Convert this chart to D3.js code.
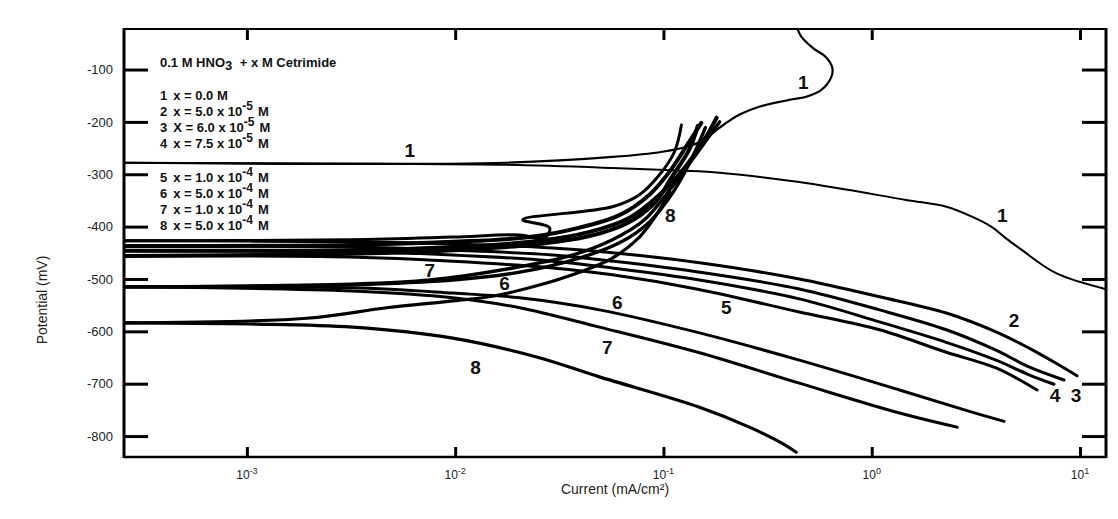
<!DOCTYPE html>
<html>
<head>
<meta charset="utf-8">
<script src="https://cdn.jsdelivr.net/npm/d3@7"></script>
<style>
  body { margin: 0; background: #fff; }
  svg { display: block; }
  .axis-text { font-family: "Liberation Sans", Arial, sans-serif; fill: #222; }
  .legend { font-family: "Liberation Sans Narrow", "Liberation Sans", Arial, sans-serif; font-weight: bold; font-size: 13px; fill: #111; }
  .curve-label { font-family: "Liberation Sans Narrow", "Liberation Sans", Arial, sans-serif; font-weight: bold; font-size: 19px; fill: #111; }
</style>
</head>
<body>
<div id="chart"></div>
<script>
// [current mA/cm2, potential mV]
const curve1Cathodic = [[2.57e-4,-278],[4.35e-3,-280],[0.0177,-282],[0.0569,-288],[0.119,-293],[0.186,-297],[0.449,-315],[1.46,-349],[2.28,-362],[3.03,-381],[3.78,-401],[4.4,-422],[5.27,-445],[7.68,-489],[13.2,-519]]
const curve1Anodic = [[2.57e-4,-278],[0.0177,-278],[0.0569,-267],[0.0989,-257],[0.133,-246],[0.157,-234],[0.186,-211],[0.232,-186],[0.288,-171],[0.402,-158],[0.485,-152],[0.573,-139],[0.640,-114],[0.647,-97],[0.605,-77],[0.519,-58],[0.459,-37],[0.439,-22]]

const curve2Cathodic = [[2.57e-4,-427],[3.12e-3,-429],[9.73e-3,-433],[0.0294,-441],[0.0569,-450],[0.149,-469],[0.449,-500],[1.09,-534],[2.28,-565],[3.95,-601],[5.69,-632],[7.68,-661],[9.68,-685]]
const curve2Anodic = [[2.57e-4,-427],[3.12e-3,-425],[9.73e-3,-420],[0.0204,-416],[0.0269,-422],[0.0284,-402],[0.0211,-387],[0.0569,-362],[0.0767,-339],[0.0957,-301],[0.113,-257],[0.122,-206]]

const curve3Cathodic = [[2.57e-4,-437],[3.12e-3,-439],[9.73e-3,-445],[0.0294,-454],[0.0569,-466],[0.149,-487],[0.449,-519],[1.09,-559],[2.28,-597],[3.95,-636],[5.69,-668],[8.38,-693]]
const curve3Anodic = [[2.57e-4,-437],[3.12e-3,-435],[9.73e-3,-429],[0.0228,-420],[0.0395,-402],[0.0615,-378],[0.0857,-339],[0.107,-295],[0.130,-244],[0.152,-202]]

const curve4Cathodic = [[2.57e-4,-446],[3.12e-3,-448],[9.73e-3,-454],[0.0294,-466],[0.0569,-479],[0.149,-502],[0.449,-538],[1.09,-582],[2.28,-621],[3.95,-655],[5.69,-683],[7.5,-701]]
const curve4Anodic = [[2.57e-4,-446],[3.12e-3,-445],[9.73e-3,-439],[0.0228,-429],[0.0442,-410],[0.0687,-383],[0.0957,-339],[0.126,-288],[0.157,-234],[0.180,-192]]

const curve5Cathodic = [[2.57e-4,-456],[3.12e-3,-458],[9.73e-3,-466],[0.0294,-479],[0.0569,-492],[0.144,-519],[0.449,-563],[1.09,-597],[2.28,-640],[3.95,-670],[6.22,-712]]
const curve5Anodic = [[2.57e-4,-456],[3.12e-3,-452],[9.73e-3,-445],[0.0228,-435],[0.0442,-418],[0.0687,-391],[0.0906,-355],[0.109,-307],[0.133,-253],[0.146,-208]]

const curve6Cathodic = [[2.57e-4,-515],[3.22e-3,-517],[9.73e-3,-527],[0.0204,-536],[0.0493,-559],[0.149,-603],[0.449,-655],[1.36,-712],[2.84,-751],[4.32,-772]]
const curve6Anodic = [[2.57e-4,-515],[3.12e-3,-511],[9.73e-3,-502],[0.0204,-487],[0.0395,-460],[0.0615,-431],[0.0857,-391],[0.113,-330],[0.136,-272],[0.159,-211]]

const curve7Cathodic = [[2.57e-4,-515],[3.22e-3,-523],[9.73e-3,-536],[0.0204,-555],[0.0493,-592],[0.149,-641],[0.449,-699],[1.36,-756],[2.57,-783]]
const curve7Anodic = [[2.57e-4,-515],[3.12e-3,-510],[7.55e-3,-502],[0.0189,-479],[0.0354,-456],[0.0569,-425],[0.0811,-387],[0.107,-330],[0.149,-253],[0.186,-200]]

const curve8Cathodic = [[2.57e-4,-584],[1.03e-3,-586],[3.22e-3,-592],[9.73e-3,-613],[0.0246,-649],[0.0493,-687],[0.149,-745],[0.2585,-783],[0.372,-814],[0.434,-831]]
const curve8Anodic = [[2.57e-4,-584],[1.94e-3,-575],[4.69e-3,-555],[9.73e-3,-542],[0.0151,-533],[0.0246,-513],[0.0395,-487],[0.0569,-460],[0.0767,-420],[0.0906,-383],[0.107,-334]]

const yTicks = [-100, -200, -300, -400, -500, -600, -700, -800]
const xTickExponents = [-3, -2, -1, 0, 1]

const legendTitle = ['0.1 M HNO', '3', ' + x M Cetrimide']
const legendRows = [
    ['1', 'x = 0.0 M', null],
    ['2', 'x = 5.0 x 10', '-5'],
    ['3', 'X = 6.0 x 10', '-5'],
    ['4', 'x = 7.5 x 10', '-5'],
    ['5', 'x = 1.0 x 10', '-4'],
    ['6', 'x = 5.0 x 10', '-4'],
    ['7', 'x = 1.0 x 10', '-4'],
    ['8', 'x = 5.0 x 10', '-4']
]

// curve number labels: [text, current, potential]
const curveLabels = [
    ['1', 6.05e-3, -253], ['1', 0.469, -123], ['1', 4.23, -378],
    ['2', 4.82, -579], ['3', 9.57, -722], ['4', 7.59, -722],
    ['5', 0.2005, -554], ['6', 0.0601, -544], ['6', 0.01727, -508],
    ['7', 0.0538, -630], ['7', 7.55e-3, -483],
    ['8', 0.01253, -668], ['8', 0.108, -378]
]

const width = 1118
const height = 519
const margin = { top: 29, right: 12, bottom: 62, left: 124 }

const svg = d3.select('#chart').append('svg')
    .attr('width', width)
    .attr('height', height)

const x = d3.scaleLog()
    .domain([2.57e-4, 13.33])
    .range([margin.left, width - margin.right])
const y = d3.scaleLinear()
    .domain([-840, -22.6])
    .range([height - margin.bottom, margin.top])

svg.append('clipPath').attr('id', 'plot-clip')
    .append('rect')
    .attr('x', margin.left).attr('y', margin.top)
    .attr('width', width - margin.left - margin.right)
    .attr('height', height - margin.top - margin.bottom)

const line = d3.line()
    .x(d => x(d[0]))
    .y(d => y(d[1]))
    .curve(d3.curveCatmullRom.alpha(0.5))

const branches = [
    { pts: curve1Cathodic, w: 2 }, { pts: curve1Anodic, w: 2.2 },
    { pts: curve2Cathodic, w: 3 }, { pts: curve2Anodic, w: 3 },
    { pts: curve3Cathodic, w: 3 }, { pts: curve3Anodic, w: 4 },
    { pts: curve4Cathodic, w: 3 }, { pts: curve4Anodic, w: 4 },
    { pts: curve5Cathodic, w: 3 }, { pts: curve5Anodic, w: 4 },
    { pts: curve6Cathodic, w: 3 }, { pts: curve6Anodic, w: 3.4 },
    { pts: curve7Cathodic, w: 3 }, { pts: curve7Anodic, w: 3.4 },
    { pts: curve8Cathodic, w: 3.2 }, { pts: curve8Anodic, w: 3.2 }
]

svg.append('g')
    .attr('clip-path', 'url(#plot-clip)')
    .selectAll('path')
    .data(branches)
    .enter()
    .append('path')
    .attr('d', d => line(d.pts))
    .attr('fill', 'none')
    .attr('stroke', '#000')
    .attr('stroke-width', d => d.w)
    .attr('stroke-linecap', 'round')
    .attr('stroke-linejoin', 'round')

// frame
const x0 = margin.left, x1 = width - margin.right
const y0 = margin.top, y1 = height - margin.bottom
const frame = svg.append('g').attr('stroke', '#000')
frame.append('line').attr('x1', x0).attr('x2', x0).attr('y1', y0 - 1).attr('y2', y1 + 1).attr('stroke-width', 3)
frame.append('line').attr('x1', x1).attr('x2', x1).attr('y1', y0 - 1).attr('y2', y1 + 1).attr('stroke-width', 3)
frame.append('line').attr('x1', x0).attr('x2', x1).attr('y1', y0).attr('y2', y0).attr('stroke-width', 2)
frame.append('line').attr('x1', x0).attr('x2', x1).attr('y1', y1).attr('y2', y1).attr('stroke-width', 2.5)

// y axis (ticks inside both sides)
const yAxis = d3.axisLeft(y).tickValues(yTicks).tickSize(-24).tickFormat(d => String(d))
const gy = svg.append('g').attr('transform', `translate(${x0},0)`).call(yAxis)
gy.select('.domain').remove()
gy.selectAll('.tick line').attr('stroke-width', 3)
gy.selectAll('.tick text')
    .attr('class', 'axis-text')
    .attr('font-size', 13)
    .attr('x', -11)

const yAxisR = d3.axisRight(y).tickValues(yTicks).tickSize(-24).tickFormat('')
const gyr = svg.append('g').attr('transform', `translate(${x1},0)`).call(yAxisR)
gyr.select('.domain').remove()
gyr.selectAll('.tick line').attr('stroke-width', 3)

// x axis
const xTicks = xTickExponents.map(e => Math.pow(10, e))
const xAxis = d3.axisBottom(x).tickValues(xTicks).tickSize(-10).tickFormat('')
const gx = svg.append('g').attr('transform', `translate(0,${y1})`).call(xAxis)
gx.select('.domain').remove()
gx.selectAll('.tick line').attr('stroke-width', 3)

const xAxisT = d3.axisTop(x).tickValues(xTicks).tickSize(-11).tickFormat('')
const gxt = svg.append('g').attr('transform', `translate(0,${y0})`).call(xAxisT)
gxt.select('.domain').remove()
gxt.selectAll('.tick line').attr('stroke-width', 3)

const xLabels = svg.append('g')
    .selectAll('text')
    .data(xTickExponents)
    .enter()
    .append('text')
    .attr('class', 'axis-text')
    .attr('x', e => x(Math.pow(10, e)))
    .attr('y', y1 + 22)
    .attr('text-anchor', 'middle')
    .attr('font-size', 12)
xLabels.append('tspan').text('10')
xLabels.append('tspan').attr('dy', -5).attr('font-size', 9).text(e => String(e))

svg.append('text')
    .attr('class', 'axis-text')
    .attr('x', (x0 + x1) / 2)
    .attr('y', y1 + 37)
    .attr('text-anchor', 'middle')
    .attr('font-size', 14)
    .text('Current (mA/cm²)')

svg.append('text')
    .attr('class', 'axis-text')
    .attr('transform', `translate(47,300) rotate(-90)`)
    .attr('text-anchor', 'middle')
    .attr('font-size', 14)
    .text('Potential (mV)')

// legend
const title = svg.append('text').attr('class', 'legend').attr('x', 160).attr('y', 67)
title.append('tspan').text(legendTitle[0])
title.append('tspan').attr('dy', 3).text(legendTitle[1])
title.append('tspan').attr('dy', -3).attr('dx', 4).text(legendTitle[2])

const rowY = [100, 116, 132, 148, 182, 198, 214, 230]
legendRows.forEach((r, i) => {
    const t = svg.append('text').attr('class', 'legend').attr('x', 160).attr('y', rowY[i])
    t.append('tspan').text(r[0])
    t.append('tspan').attr('dx', 6).text(r[1])
    if (r[2]) {
        t.append('tspan').attr('dy', -6).attr('font-size', 12).text(r[2])
        t.append('tspan').attr('dy', 6).attr('dx', 5).text('M')
    }
})

// curve number labels
svg.append('g')
    .selectAll('text')
    .data(curveLabels)
    .enter()
    .append('text')
    .attr('class', 'curve-label')
    .attr('x', d => x(d[1]))
    .attr('y', d => y(d[2]) + 7)
    .attr('text-anchor', 'middle')
    .text(d => d[0])
</script>
</body>
</html>
